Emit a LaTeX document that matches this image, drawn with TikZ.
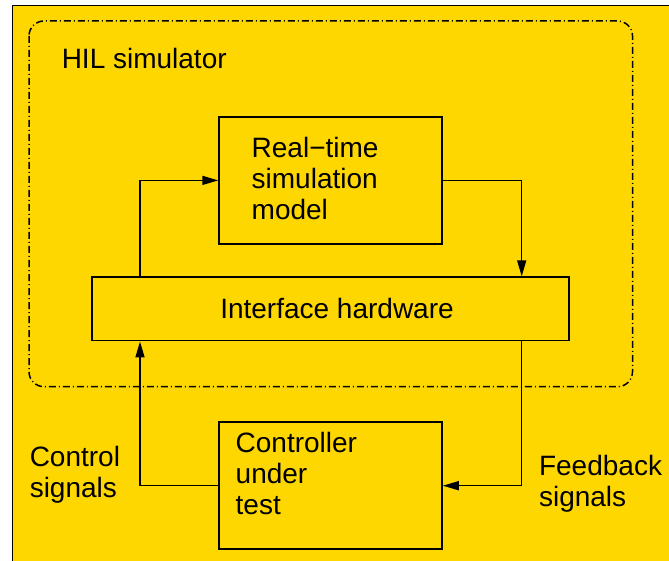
\documentclass[tikz,border=0pt]{standalone}
\usepackage{fontspec}
\setmainfont{Liberation Sans}
\usetikzlibrary{positioning,arrows.meta}

\definecolor{hilyellow}{RGB}{255,215,0}

\begin{document}
\begin{tikzpicture}[x=0.5pt,y=-0.5pt,line width=0.75pt,
  >={Triangle[length=8pt,width=4.5pt]},
  txt/.style={font=\fontsize{14}{15.5}\selectfont,inner sep=0pt,align=left},
  box node/.style={draw,txt,minimum width=111.5pt,minimum height=63.5pt}]

  % page with the dash-dot frame of the simulator
  \useasboundingbox (0,0) rectangle (669,561);
  \fill[hilyellow] (12.5,5.5) rectangle (669,561);
  \draw (12.5,561) -- (12.5,5.5) -- (669,5.5);
  \draw[dash pattern=on 3.5pt off 1.5pt on 0.5pt off 1.5pt,rounded corners=7.5pt]
    (29,21) rectangle (632.5,386.7);
  \node[txt,anchor=base west] (hil) at (61,69) {HIL simulator};

  \node[box node] (model) at (330.5,180.4) {};
  \node[txt,below right=10.3pt and 16.35pt of model.north west] (modeltxt)
    {Real−time\\simulation\\model};
  \node[draw,txt,minimum width=238.5pt,minimum height=31.8pt,below=15.85pt of model] (iface)
    {\hspace{6.5pt}Interface hardware};
  \node[box node,below=40pt of iface] (ctrl) {};
  \node[txt,below right=4.8pt and 8.35pt of ctrl.north west] (ctrltxt)
    {Controller\\under\\test};

  \node[txt,anchor=north west] (ctrlsig) at (29,445.5) {Control\\signals};
  \node[txt,anchor=north west] (fbsig) at (538.3,454) {Feedback\\signals};

  % signal loop
  \coordinate (lft) at (140,0);
  \coordinate (rgt) at (521.7,0);
  \draw[->] (lft |- iface.north) |- (model.west);
  \draw[->] (model.east) -| (rgt |- iface.north);
  \draw[->] (rgt |- iface.south) |- (ctrl.east);
  \draw[->] (ctrl.west) -| (lft |- iface.south);
\end{tikzpicture}
\end{document}
